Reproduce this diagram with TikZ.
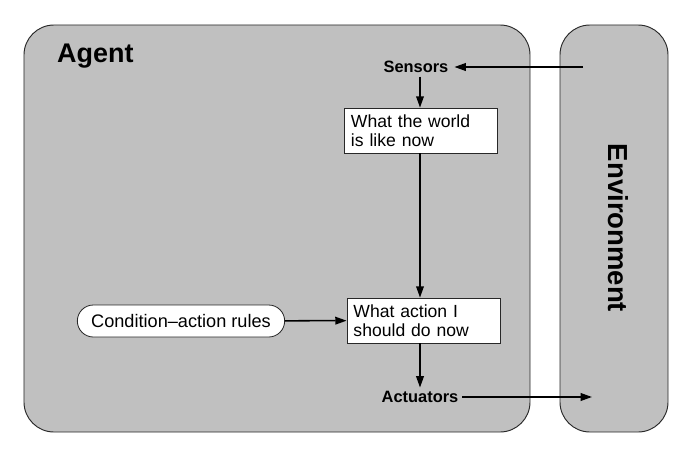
\documentclass[tikz,border=0pt]{standalone}
\usepackage{fontspec}
\setmainfont{Liberation Sans}
\usepackage{xcolor}
\usetikzlibrary{shapes.misc, arrows.meta, positioning}
\definecolor{agentgray}{RGB}{192, 192, 192}
\definecolor{edgegray}{RGB}{40, 40, 40}

\begin{document}
\begin{tikzpicture}[
    x=0.03cm, y=-0.03cm,
    panel/.style={rectangle, draw=edgegray, fill=agentgray, rounded corners=0.9cm, inner sep=0pt, outer sep=0pt, line width=0.8pt},
    box/.style={rectangle, draw=edgegray, fill=white, minimum width=4.59cm, minimum height=1.35cm, align=left, text width=4.2cm, font=\fontsize{15}{16.5}\selectfont, inner sep=2pt, line width=0.7pt},
    rulebox/.style={rounded rectangle, draw=edgegray, fill=white, minimum width=6.36cm, minimum height=0.96cm, font=\fontsize{15.5}{17}\selectfont, inner sep=2pt, line width=0.7pt},
    port/.style={font=\bfseries\fontsize{14}{16}\selectfont, inner sep=3pt},
    arrow/.style={-{Triangle[length=3.4mm, width=2.3mm]}, line width=1.3pt}
]
\useasboundingbox (0,0) rectangle (690,470);

% Panels
\node[panel, minimum width=15.18cm, minimum height=12.21cm] (agent) at (277,228.5) {};
\node[panel, minimum width=3.24cm, minimum height=12.21cm] (env) at (614,228.5) {};

% Titles
\node[font=\bfseries\fontsize{23}{27}\selectfont, anchor=base west, inner sep=0pt] (agentlbl) at (57,62) {Agent};
\node[font=\bfseries\fontsize{23.5}{28}\selectfont, rotate=-90] (envlbl) at (618,228) {Environment};

% Components
\node[port] (sensors) at (416,67) {Sensors};
\node[box] (world) at (421,130.5) {What the world\\is like now};
\node[box] (action) at (423.5,320.5) {What action I\\should do now};
\node[port] (actuators) at (420,397) {Actuators};
\node[rulebox] (rules) at (181,321) {Condition--action rules};

% Free ends in the environment
\coordinate (envin) at (583,67);
\coordinate (envout) at (592,397);

% Arrows
\draw[arrow] (envin) -- ([xshift=2pt]sensors.east);
\draw[arrow] (sensors.south -| 420,0) -- (420,0 |- world.north);
\draw[arrow] (420,0 |- world.south) -- (420,0 |- action.north);
\draw[arrow] (rules) -- (action);
\draw[arrow] (420,0 |- action.south) -- (actuators);
\draw[arrow] (actuators) -- (envout);

\end{tikzpicture}
\end{document}
